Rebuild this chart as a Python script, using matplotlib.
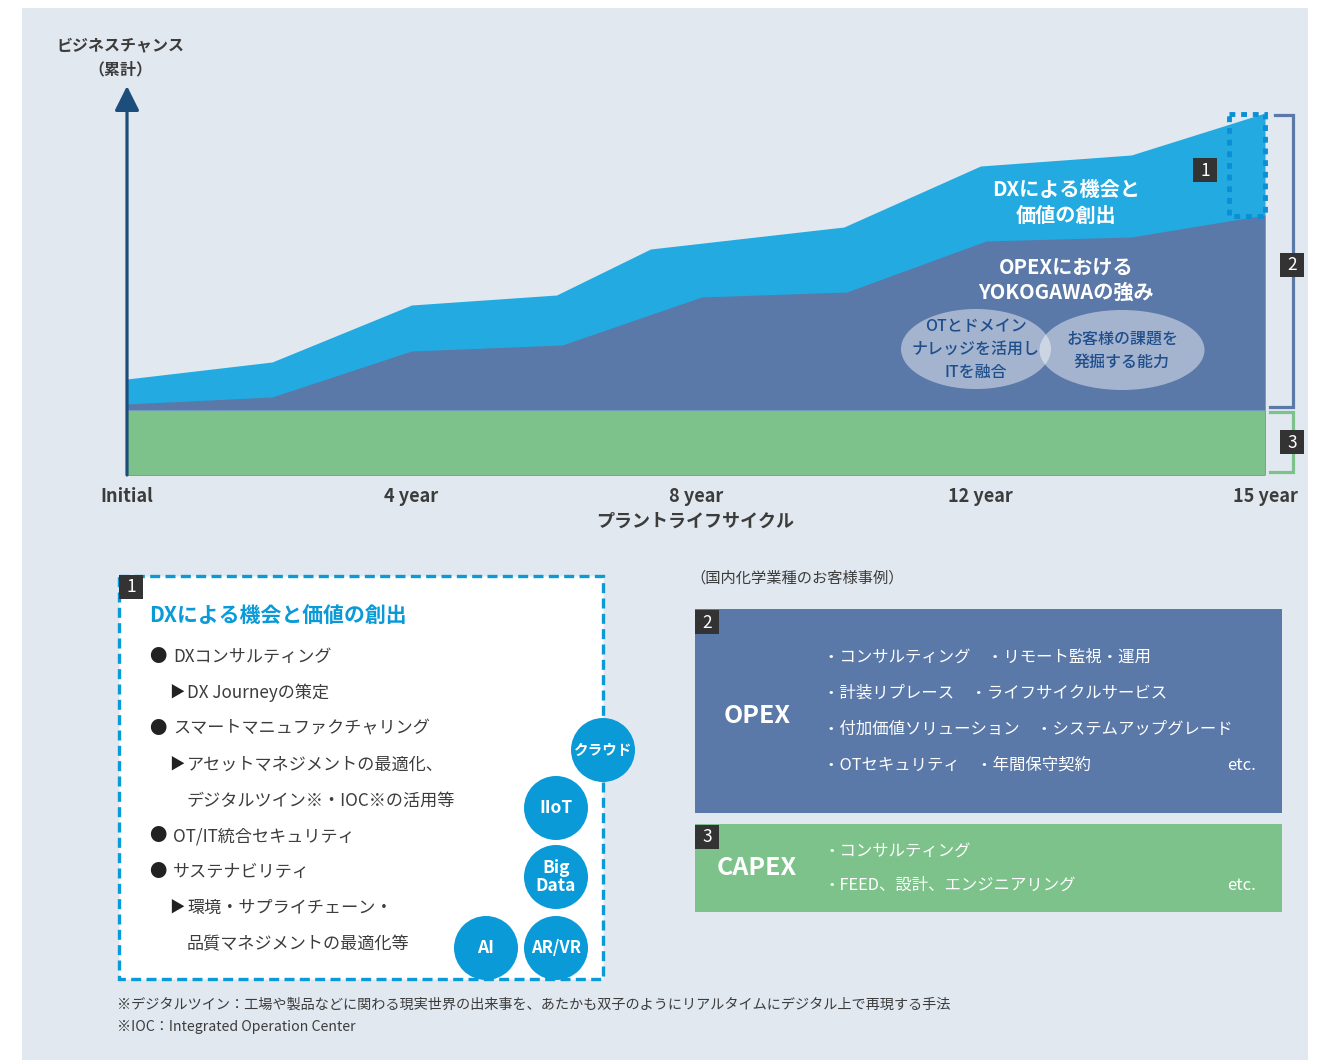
import matplotlib
matplotlib.use("Agg")
import matplotlib.pyplot as plt
from matplotlib.patches import Rectangle, Ellipse, Circle

plt.rcParams['font.family'] = ['Noto Sans CJK JP', 'DejaVu Sans']

# ---------------- data ----------------
tick_pos = [0, 1, 2, 3, 4]
tick_labels = ["Initial", "4 year", "8 year", "12 year", "15 year"]
x_dx = [0, 0.51, 1.0, 1.51, 1.84, 2.52, 3.0, 3.53, 4.0]
dx_top = [96, 113, 170, 180, 226, 248, 309, 320, 362]
x_opex = [0, 0.51, 1.0, 1.53, 2.02, 2.53, 3.02, 3.53, 4.0]
opex_top = [71, 78, 124, 130, 178, 183, 234, 238, 260]
capex_x = [0, 4]
capex_top = [65, 65]

dx_items = [
    ("●", "DXコンサルティング"),
    ("▶", "DX Journeyの策定"),
    ("●", "スマートマニュファクチャリング"),
    ("▶", "アセットマネジメントの最適化、"),
    ("", "デジタルツイン※・IOC※の活用等"),
    ("●", "OT/IT統合セキュリティ"),
    ("●", "サステナビリティ"),
    ("▶", "環境・サプライチェーン・"),
    ("", "品質マネジメントの最適化等"),
]
tech_bubbles = ["クラウド", "IIoT", "Big\nData", "AI", "AR/VR"]
opex_items = [
    "・コンサルティング　・リモート監視・運用",
    "・計装リプレース　・ライフサイクルサービス",
    "・付加価値ソリューション　・システムアップグレード",
    "・OTセキュリティ　・年間保守契約",
]
capex_items = ["・コンサルティング", "・FEED、設計、エンジニアリング"]
footnotes = [
    "※デジタルツイン：工場や製品などに関わる現実世界の出来事を、あたかも双子のようにリアルタイムにデジタル上で再現する手法",
    "※IOC：Integrated Operation Center",
]

# ---------------- colours ----------------
BG = "#e1e8ef"
C_DX = "#23aae1"
C_OPEX = "#5a78a8"
C_CAPEX = "#7ec28b"
C_NAVY = "#1d4e7b"
C_BLUE = "#0a9ad8"
C_TXT = "#3c3c3c"
C_BADGE = "#333333"

W, H = 1332, 1060
fig = plt.figure(figsize=(W / 100, H / 100), dpi=100)
fig.patch.set_facecolor("white")

def pix_axes(z):
    a = fig.add_axes([0, 0, 1, 1], zorder=z)
    a.set_xlim(0, W)
    a.set_ylim(H, 0)
    a.axis("off")
    a.patch.set_alpha(0)
    return a

bg = pix_axes(0)
bg.add_patch(Rectangle((22, 8), 1286, 1060, facecolor=BG, edgecolor="none"))

# ---------------- chart ----------------
L, R, B, T = 127, 1265, 475, 85
ax = fig.add_axes([L / W, (H - B) / H, (R - L) / W, (B - T) / H], zorder=1)
ax.patch.set_alpha(0)
ax.set_xlim(0, 4)
ax.set_ylim(0, B - T)
ax.fill_between(x_dx, 0, dx_top, color=C_DX, lw=0)
ax.fill_between(x_opex, 0, opex_top, color=C_OPEX, lw=0)
ax.fill_between(capex_x, 0, capex_top, color=C_CAPEX, lw=0)
ax.plot(capex_x, capex_top, color="#6f9cc0", lw=0.8)
for s in ax.spines.values():
    s.set_visible(False)
ax.set_yticks([])
ax.set_xticks(tick_pos)
ax.set_xticklabels(tick_labels, fontsize=13, fontweight="bold", color=C_TXT)
ax.tick_params(axis="x", length=0, pad=9)
ax.annotate("", xy=(0, B - T - 1), xytext=(0, 0),
            arrowprops=dict(arrowstyle="-|>,head_length=1.0,head_width=0.5",
                            mutation_scale=15, lw=2.3, color=C_NAVY,
                            shrinkA=0, shrinkB=0),
            annotation_clip=False)

ov = pix_axes(3)

# axis titles
ov.text(120, 45, "ビジネスチャンス", ha="center", va="center", fontsize=11.5,
        color=C_TXT, fontweight="bold")
ov.text(120, 69, "（累計）", ha="center", va="center", fontsize=11.5,
        color=C_TXT, fontweight="bold")
ov.text(695, 521, "プラントライフサイクル", ha="center", va="center", fontsize=13,
        color=C_TXT, fontweight="bold")

# labels inside areas
for y, t in [(190, "DXによる機会と"), (215, "価値の創出"),
             (267, "OPEXにおける"), (292, "YOKOGAWAの強み")]:
    ov.text(1066, y, t, ha="center", va="center", fontsize=14.5,
            color="white", fontweight="bold")

ov.add_patch(Ellipse((976, 349), 150, 80, facecolor="white", alpha=0.45, lw=0))
ov.add_patch(Ellipse((1122, 350), 165, 80, facecolor="white", alpha=0.45, lw=0))
for i, t in enumerate(["OTとドメイン", "ナレッジを活用し", "ITを融合"]):
    ov.text(976, 327 + i * 22.5, t, ha="center", va="center", fontsize=11.5,
            color="#1f4e8c", fontweight="medium")
for i, t in enumerate(["お客様の課題を", "発掘する能力"]):
    ov.text(1122, 339 + i * 23, t, ha="center", va="center", fontsize=11.5,
            color="#1f4e8c", fontweight="medium")

# dotted highlight box
ov.add_patch(Rectangle((1229, 114), 36, 102, facecolor="none", edgecolor="#0a8fd6",
                       lw=3.5, linestyle=(0, (1.2, 1.2))))

def badge(x, y, n, s=24):
    ov.add_patch(Rectangle((x, y), s, s, facecolor=C_BADGE, edgecolor="none", zorder=8))
    ov.text(x + s / 2, y + s / 2 + 0.5, n, ha="center", va="center", fontsize=12.5,
            color="white", zorder=9)

badge(1193, 158, "1")
# brackets
ov.plot([1275, 1293, 1293, 1270], [115, 115, 407, 407], color=C_OPEX, lw=2.3,
        solid_joinstyle="miter")
ov.plot([1270, 1293, 1293, 1270], [412, 412, 472, 472], color=C_CAPEX, lw=2.3,
        solid_joinstyle="miter")
badge(1280, 253, "2")
badge(1280, 430, "3")

# ---------------- box 1 ----------------
ov.add_patch(Rectangle((119, 576), 484, 403, facecolor="white", edgecolor=C_BLUE,
                       lw=2.4, linestyle=(0, (3, 1.6))))
badge(119, 575, "1")
ov.text(149, 616, "DXによる機会と価値の創出", ha="left", va="center", fontsize=15,
        color=C_BLUE, fontweight="bold")
for i, (mark, t) in enumerate(dx_items):
    y = 657 + i * 35.9
    if mark == "●":
        ov.text(149, y, "●", ha="left", va="center", fontsize=12.5, color="#222222")
        ov.text(173, y, t, ha="left", va="center", fontsize=12.3, color=C_TXT)
    elif mark == "▶":
        ov.text(169, y, "▶", ha="left", va="center", fontsize=11, color="#222222")
        ov.text(187, y, t, ha="left", va="center", fontsize=12.3, color=C_TXT)
    else:
        ov.text(187, y, t, ha="left", va="center", fontsize=12.3, color=C_TXT)

bubble_xy = [(603, 750), (556, 808), (556, 877), (486, 948), (556, 948)]
bubble_fs = [10.5, 12.5, 12.5, 12.5, 12]
for (cx, cy), t, fs in zip(bubble_xy, tech_bubbles, bubble_fs):
    ov.add_patch(Circle((cx, cy), 32, facecolor=C_BLUE, edgecolor="none", zorder=5))
    ov.text(cx, cy, t, ha="center", va="center", fontsize=fs, color="white",
            fontweight="bold", zorder=6, linespacing=0.95)

# ---------------- OPEX / CAPEX ----------------
ov.text(690, 578, "（国内化学業種のお客様事例）", ha="left", va="center", fontsize=11,
        color=C_TXT)
ov.add_patch(Rectangle((695, 609), 587, 204, facecolor=C_OPEX, edgecolor="none"))
badge(695, 610, "2")
ov.text(757, 716, "OPEX", ha="center", va="center", fontsize=18, color="white",
        fontweight="bold")
for i, t in enumerate(opex_items):
    ov.text(823, 657 + i * 36, t, ha="left", va="center", fontsize=11.8, color="white")
ov.text(1256, 766, "etc.", ha="right", va="center", fontsize=12, color="white")

ov.add_patch(Rectangle((695, 824), 587, 88, facecolor=C_CAPEX, edgecolor="none"))
badge(695, 825, "3")
ov.text(757, 868, "CAPEX", ha="center", va="center", fontsize=18, color="white",
        fontweight="bold")
for i, t in enumerate(capex_items):
    ov.text(823, 851 + i * 34, t, ha="left", va="center", fontsize=11.8, color="white")
ov.text(1256, 886, "etc.", ha="right", va="center", fontsize=12, color="white")

# ---------------- footnotes ----------------
for i, t in enumerate(footnotes):
    ov.text(117, 1005 + i * 22, t, ha="left", va="center", fontsize=10.2, color=C_TXT)

fig.savefig("out.png", dpi=100, facecolor="white")
